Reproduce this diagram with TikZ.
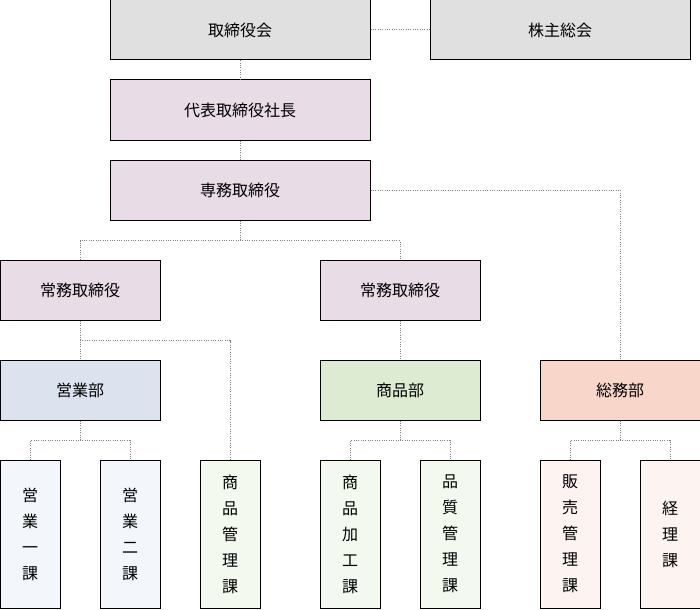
\documentclass[tikz,border=0pt]{standalone}
\usepackage{fontspec}
\setmainfont{Noto Sans CJK JP}
\usetikzlibrary{positioning}
\definecolor{boardgray}{HTML}{E0E0E0}
\definecolor{execpink}{HTML}{E8DCE6}
\definecolor{salesblue}{HTML}{DCE3EE}
\definecolor{goodsgreen}{HTML}{DDEBD3}
\definecolor{affairspeach}{HTML}{F8D6CA}
\definecolor{paleblue}{HTML}{F3F7FC}
\definecolor{palegreen}{HTML}{F3F9EE}
\definecolor{palepeach}{HTML}{FDF3F1}
\tikzset{
  box/.style={draw=black, line width=0.75pt, inner sep=0pt, font=\fontsize{12}{14}\selectfont},
  wide/.style={box, minimum width=195pt, minimum height=45pt},
  mid/.style={box, minimum width=120pt, minimum height=45pt},
  tall/.style={box, minimum width=45pt, minimum height=111pt, align=center,
    font=\fontsize{12}{19.5}\selectfont},
  link/.style={draw=gray, densely dotted, line width=0.75pt}
}
\begin{document}
\begin{tikzpicture}[x=0.75pt,y=-0.75pt]
  \useasboundingbox (0,0) rectangle (700,610);
  % top rows
  \node [wide, fill=boardgray] (board) at (240,30) {取締役会};
  \node [wide, fill=boardgray] (meeting) at (560,30) {株主総会};
  \node [wide, fill=execpink] (ceo) at (240,110) {代表取締役社長};
  \node [wide, fill=execpink] (senior) at (240,190) {専務取締役};
  \node [mid, fill=execpink] (mdleft) at (80,290) {常務取締役};
  \node [mid, fill=execpink] (mdright) at (400,290) {常務取締役};
  % departments
  \node [mid, fill=salesblue] (sales) at (80,390) {営業部};
  \node [mid, fill=goodsgreen] (goods) at (400,390) {商品部};
  \node [mid, fill=affairspeach] (affairs) at (620,390) {総務部};
  % sections
  \node [tall, fill=paleblue] (sec1) at (30,534) {営\\業\\一\\課};
  \node [tall, fill=paleblue] (sec2) at (130,534) {営\\業\\二\\課};
  \node [tall, fill=palegreen] (ctrl) at (230,534) {商\\品\\管\\理\\課};
  \node [tall, fill=palegreen] (proc) at (350,534) {商\\品\\加\\工\\課};
  \node [tall, fill=palegreen] (qual) at (450,534) {品\\質\\管\\理\\課};
  \node [tall, fill=palepeach] (retail) at (570,534) {販\\売\\管\\理\\課};
  \node [tall, fill=palepeach] (acct) at (670,534) {経\\理\\課};
  % connectors
  \draw [link] (board) -- (meeting);
  \draw [link] (board) -- (ceo);
  \draw [link] (ceo) -- (senior);
  \draw [link] (senior.south) -- ++(0,20) -| (mdleft.north);
  \draw [link] (senior.south) ++(0,20) -| (mdright.north);
  \draw [link] (senior.east) -| (affairs.north);
  \draw [link] (mdleft) -- (sales);
  \draw [link] (mdleft.south) ++(0,20) -| (ctrl.north);
  \draw [link] (mdright) -- (goods);
  \draw [link] (sales.south) -- ++(0,20) -| (sec1.north);
  \draw [link] (sales.south) ++(0,20) -| (sec2.north);
  \draw [link] (goods.south) -- ++(0,20) -| (proc.north);
  \draw [link] (goods.south) ++(0,20) -| (qual.north);
  \draw [link] (affairs.south) -- ++(0,20) -| (retail.north);
  \draw [link] (affairs.south) ++(0,20) -| (acct.north);
\end{tikzpicture}
\end{document}
